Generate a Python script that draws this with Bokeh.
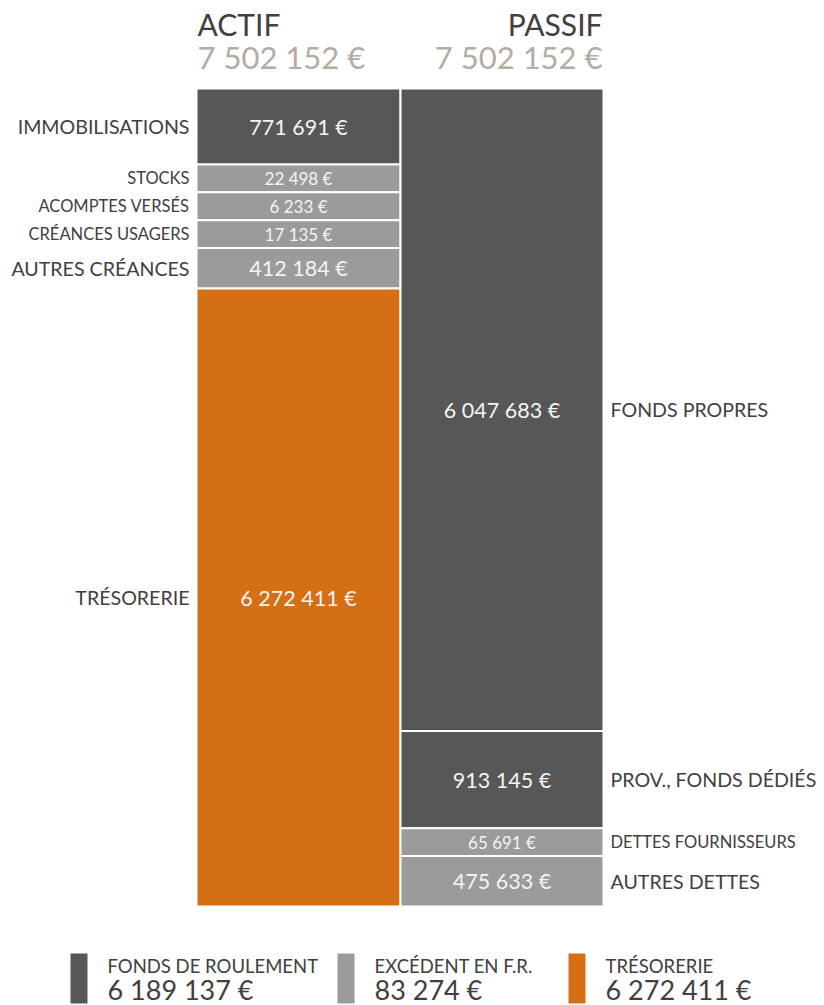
from bokeh.plotting import figure
from bokeh.models import ColumnDataSource, Range1d
from bokeh.core.properties import value
from bokeh.embed import file_html
from bokeh.resources import INLINE

# ---- data ----
actif_items = ["IMMOBILISATIONS", "STOCKS", "ACOMPTES VERSÉS", "CRÉANCES USAGERS", "AUTRES CRÉANCES", "TRÉSORERIE"]
actif_values = [771691, 22498, 6233, 17135, 412184, 6272411]
actif_groups = ["fr", "efr", "efr", "efr", "efr", "treso"]

passif_items = ["FONDS PROPRES", "PROV., FONDS DÉDIÉS", "DETTES FOURNISSEURS", "AUTRES DETTES"]
passif_values = [6047683, 913145, 65691, 475633]
passif_groups = ["fr", "fr", "efr", "efr"]

legend_labels = ["FONDS DE ROULEMENT", "EXCÉDENT EN F.R.", "TRÉSORERIE"]
legend_values = [6189137, 83274, 6272411]
legend_groups = ["fr", "efr", "treso"]

colors = {"fr": "#575757", "efr": "#9b9b9b", "treso": "#d46f14"}
FONT = "Lato"
LABEL_COLOR = "#404040"
AMOUNT_COLOR = "#b3aba4"
VALUE_COLOR = "#f4f4f4"

W, H = 824, 1005
BAR_TOP, BAR_BOT = 88, 906  # screen px within figure
MIN_SHARE = 0.034


def fmt(v):
    return f"{v:,}".replace(",", " ") + " €"


def display_heights(vals):
    total = sum(vals)
    mn = MIN_SHARE * total
    small = [v < mn for v in vals]
    big_sum = sum(v for v, s in zip(vals, small) if not s)
    avail = total - mn * sum(small)
    return [mn if s else v * avail / big_sum for v, s in zip(vals, small)], small


total = sum(actif_values)
per_px = total / (BAR_BOT - BAR_TOP)


def ys(screen_y):
    """screen y (px from figure top) -> data y"""
    return (BAR_BOT - screen_y) * per_px


p = figure(width=W, height=H, output_backend="svg", toolbar_location=None,
           x_range=Range1d(0, W), y_range=Range1d(ys(H), ys(0)),
           min_border=0, outline_line_color=None)
p.axis.visible = False
p.grid.visible = False
p.background_fill_color = "white"


def column(items, vals, groups, left, right, label_side):
    hts, small = display_heights(vals)
    tops, bots = [], []
    y = sum(hts)
    for h in hts:
        tops.append(y)
        bots.append(y - h)
        y -= h
    mids = [(t + b) / 2 for t, b in zip(tops, bots)]
    src = ColumnDataSource(dict(
        top=tops, bottom=bots,
        color=[colors[g] for g in groups],
        mid=mids,
        txt=[fmt(v) for v in vals],
        lab=items,
        vsize=["17px" if s else "21.5px" for s in small],
        lsize=["16.5px" if s else "19.6px" for s in small],
    ))
    p.quad(left=left, right=right, top="top", bottom="bottom", fill_color="color",
           line_color="white", line_width=2, source=src)
    p.text(x=(left + right) / 2, y="mid", text="txt", text_font=value(FONT),
           text_font_size="vsize", text_color=VALUE_COLOR, text_align="center",
           text_baseline="middle", source=src)
    if label_side == "left":
        p.text(x=left - 7, y="mid", text="lab", text_font=value(FONT),
               text_font_size="lsize", text_color=LABEL_COLOR, text_align="right",
               text_baseline="middle", source=src)
    else:
        p.text(x=right + 7, y="mid", text="lab", text_font=value(FONT),
               text_font_size="lsize", text_color=LABEL_COLOR, text_align="left",
               text_baseline="middle", source=src)


column(actif_items, actif_values, actif_groups, 196, 400, "left")
column(passif_items, passif_values, passif_groups, 400, 603, "right")

# headers
p.text(x=[197], y=[ys(23)], text=["ACTIF"], text_font=value(FONT), text_font_size="30px",
       text_color=LABEL_COLOR, text_align="left", text_baseline="middle")
p.text(x=[602], y=[ys(23)], text=["PASSIF"], text_font=value(FONT), text_font_size="30px",
       text_color=LABEL_COLOR, text_align="right", text_baseline="middle")
p.text(x=[197], y=[ys(56)], text=[fmt(sum(actif_values))], text_font=value(FONT),
       text_font_size="31px", text_color=AMOUNT_COLOR, text_align="left", text_baseline="middle")
p.text(x=[602], y=[ys(56)], text=[fmt(sum(passif_values))], text_font=value(FONT),
       text_font_size="31px", text_color=AMOUNT_COLOR, text_align="right", text_baseline="middle")

# legend
lx = [70, 337, 568]
lsrc = ColumnDataSource(dict(
    left=lx, right=[x + 17 for x in lx],
    top=[ys(953)] * 3, bottom=[ys(1003)] * 3,
    color=[colors[g] for g in legend_groups],
    tx=[x + 37 for x in lx],
    lab=legend_labels,
    val=[fmt(v) for v in legend_values],
))
p.quad(left="left", right="right", top="top", bottom="bottom", fill_color="color",
       line_color=None, source=lsrc)
p.text(x="tx", y=ys(965), text="lab", text_font=value(FONT), text_font_size="18.5px",
       text_color=LABEL_COLOR, text_align="left", text_baseline="middle", source=lsrc)
p.text(x="tx", y=ys(989), text="val", text_font=value(FONT), text_font_size="27px",
       text_color=LABEL_COLOR, text_align="left", text_baseline="middle", source=lsrc)

open("out.html", "w").write(file_html(p, INLINE))
